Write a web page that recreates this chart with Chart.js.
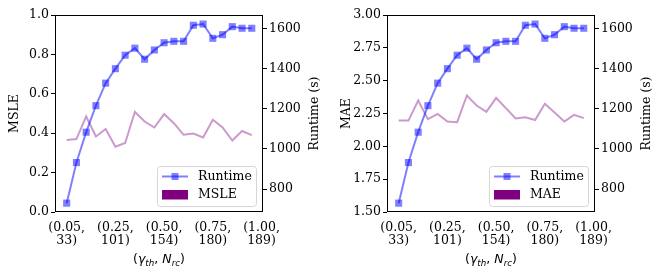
<!DOCTYPE html>
<html>
<head>
<meta charset="utf-8">
<script src="https://cdn.jsdelivr.net/npm/chart.js@4.4.1/dist/chart.umd.min.js"></script>
<style>
  html, body { margin: 0; padding: 0; background: #fff; }
  #wrap { display: flex; width: 664px; height: 277px; }
  canvas { display: block; }
</style>
</head>
<body>
<div id="wrap">
  <canvas id="msleChart" width="332" height="277"></canvas>
  <canvas id="maeChart" width="332" height="277"></canvas>
</div>
<script>
// data
const gammaTicks = ["0.05", "0.25", "0.50", "0.75", "1.00"];
const nrcTicks = ["33", "101", "154", "180", "189"];
const tickIndex = [0, 5, 10, 15, 20];

const runtime = [730, 932, 1083, 1215, 1327, 1399, 1466, 1501, 1446, 1492,
  1528, 1535, 1535, 1615, 1621, 1550, 1568, 1608, 1600, 1600];
const msle = [0.366, 0.370, 0.485, 0.383, 0.421, 0.331, 0.350, 0.508, 0.459, 0.429,
  0.497, 0.451, 0.392, 0.398, 0.378, 0.468, 0.429, 0.363, 0.411, 0.390];
const mae = [2.196, 2.196, 2.349, 2.207, 2.247, 2.189, 2.184, 2.387, 2.311, 2.263,
  2.369, 2.291, 2.212, 2.222, 2.200, 2.324, 2.257, 2.189, 2.240, 2.215];

const runtimeTicks = [800, 1000, 1200, 1400, 1600];

const serif = "'DejaVu Serif', serif";
const sans = "'DejaVu Sans', sans-serif";
const FS = 12.5;

// frame, axis titles and legend drawn by hand (matplotlib look)
const decorPlugin = {
  id: "decor",
  afterDraw(chart, args, opts) {
    const ctx = chart.ctx;
    const a = chart.chartArea;
    ctx.save();

    // frame
    ctx.strokeStyle = "#000";
    ctx.lineWidth = 1;
    ctx.strokeRect(Math.round(a.left) + 0.5, Math.round(a.top) + 0.5,
      Math.round(a.right - a.left) - 1, Math.round(a.bottom - a.top) - 1);

    const midY = (a.top + a.bottom) / 2;
    ctx.fillStyle = "#000";
    ctx.font = FS + "px " + serif;
    ctx.textAlign = "center";
    ctx.textBaseline = "middle";

    // left title
    ctx.save();
    ctx.translate(15, midY);
    ctx.rotate(-Math.PI / 2);
    ctx.fillText(opts.metricName, 0, 0);
    ctx.restore();

    // right title
    ctx.save();
    ctx.translate(315, midY);
    ctx.rotate(-Math.PI / 2);
    ctx.fillText("Runtime (s)", 0, 0);
    ctx.restore();

    // x title with subscripts
    const parts = [
      { t: "(", f: FS + "px " + sans, dy: 0 },
      { t: "\u03b3", f: "italic " + FS + "px " + sans, dy: 0 },
      { t: "th", f: "italic " + (FS * 0.7) + "px " + sans, dy: 2.5 },
      { t: ", ", f: FS + "px " + sans, dy: 0 },
      { t: "N", f: "italic " + FS + "px " + sans, dy: 0 },
      { t: "rc", f: "italic " + (FS * 0.7) + "px " + sans, dy: 2.5 },
      { t: ")", f: FS + "px " + sans, dy: 0 }
    ];
    let total = 0;
    parts.forEach((p) => { ctx.font = p.f; p.w = ctx.measureText(p.t).width; total += p.w; });
    let x = (a.left + a.right) / 2 - total / 2;
    ctx.textAlign = "left";
    ctx.textBaseline = "alphabetic";
    parts.forEach((p) => {
      ctx.font = p.f;
      ctx.fillText(p.t, x, 263 + p.dy);
      x += p.w;
    });

    // legend
    const lx = a.left + 102, ly = a.top + 151, lw = 99, lh = 40;
    ctx.beginPath();
    ctx.roundRect(lx + 0.5, ly + 0.5, lw, lh, 3);
    ctx.fillStyle = "rgba(255,255,255,0.8)";
    ctx.fill();
    ctx.strokeStyle = "#d6d6d6";
    ctx.stroke();

    // runtime handle
    ctx.strokeStyle = "rgba(0,0,255,0.5)";
    ctx.lineWidth = 2;
    ctx.beginPath();
    ctx.moveTo(lx + 5, ly + 10.5);
    ctx.lineTo(lx + 31, ly + 10.5);
    ctx.stroke();
    ctx.fillStyle = "rgba(0,0,255,0.5)";
    ctx.fillRect(lx + 18 - 3.5, ly + 10.5 - 3.5, 7, 7);

    // metric patch
    ctx.fillStyle = "#800080";
    ctx.fillRect(lx + 5, ly + 24, 26, 9.5);

    ctx.fillStyle = "#000";
    ctx.font = FS + "px " + serif;
    ctx.textBaseline = "middle";
    ctx.fillText("Runtime", lx + 41, ly + 11);
    ctx.fillText(opts.metricName, lx + 41, ly + 29);

    ctx.restore();
  }
};

function makeChart(canvasId, metricName, metricValues, yMin, yMax, yStep, decimals) {
  const ctx = document.getElementById(canvasId).getContext("2d");
  return new Chart(ctx, {
    type: "line",
    data: {
      datasets: [
        {
          label: "Runtime",
          data: runtime.map((v, i) => ({ x: i, y: v })),
          yAxisID: "y1",
          borderColor: "rgba(0,0,255,0.5)",
          backgroundColor: "rgba(0,0,255,0.5)",
          borderWidth: 2,
          pointStyle: "rect",
          pointRadius: 5,
          pointBorderWidth: 0,
          tension: 0
        },
        {
          label: metricName,
          data: metricValues.map((v, i) => ({ x: i, y: v })),
          yAxisID: "y",
          borderColor: "rgba(128,0,128,0.4)",
          borderWidth: 2,
          pointRadius: 0,
          tension: 0
        }
      ]
    },
    options: {
      responsive: false,
      animation: false,
      devicePixelRatio: 1,
      layout: { padding: { top: 15, left: 0, right: 0, bottom: 0 } },
      plugins: {
        legend: { display: false },
        tooltip: { enabled: false },
        decor: { metricName: metricName }
      },
      scales: {
        x: {
          type: "linear",
          min: -1.2,
          max: 20.15,
          afterBuildTicks: (axis) => { axis.ticks = tickIndex.map((v) => ({ value: v })); },
          afterFit: (axis) => { axis.height = 65; },
          grid: { display: false },
          border: { display: false },
          ticks: {
            autoSkip: false,
            maxRotation: 0,
            padding: 1,
            color: "#000",
            font: { family: serif, size: FS, lineHeight: 1.05 },
            callback: (v) => {
              const k = tickIndex.indexOf(v);
              return k < 0 ? "" : ["(" + gammaTicks[k] + ",", nrcTicks[k] + ")"];
            }
          }
        },
        y: {
          position: "left",
          min: yMin,
          max: yMax,
          afterFit: (axis) => { axis.width = 55; },
          grid: { drawOnChartArea: false, tickLength: 4, color: "#000" },
          border: { display: false },
          ticks: {
            stepSize: yStep,
            padding: 2,
            color: "#000",
            font: { family: serif, size: FS },
            callback: (v) => Number(v).toFixed(decimals)
          }
        },
        y1: {
          position: "right",
          min: 686,
          max: 1666,
          afterBuildTicks: (axis) => { axis.ticks = runtimeTicks.map((v) => ({ value: v })); },
          afterFit: (axis) => { axis.width = 69; },
          grid: { drawOnChartArea: false, tickLength: 4, color: "#000" },
          border: { display: false },
          ticks: {
            padding: 2,
            color: "#000",
            font: { family: serif, size: FS },
            callback: (v) => String(v)
          }
        }
      }
    },
    plugins: [decorPlugin]
  });
}

makeChart("msleChart", "MSLE", msle, 0, 1, 0.2, 1);
makeChart("maeChart", "MAE", mae, 1.5, 3.0, 0.25, 2);
</script>
</body>
</html>
